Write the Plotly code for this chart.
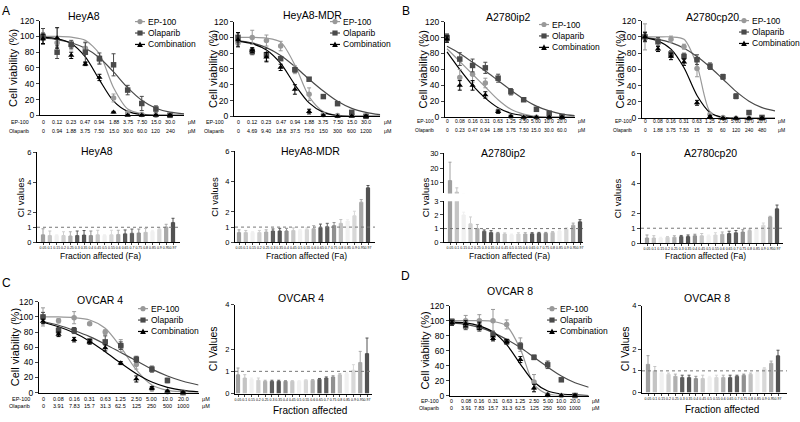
import plotly.graph_objects as go

W, H = 800, 422
FONT = "Arial, 'Liberation Sans', sans-serif"

# ---------------- data ----------------
DOSE_IDX = list(range(10))
FIT_IDX = list(range(11))

EP_DOSES_A = ["0", "0.12", "0.23", "0.47", "0.94", "1.88", "3.75", "7.50", "15.0", "30.0"]
EP_DOSES_B = ["0", "0.08", "0.16", "0.31", "0.63", "1.25", "2.50", "5.00", "10.0", "20.0"]
OLA_DOSES_HEYA8 = ["0", "0.94", "1.88", "3.75", "7.50", "15.0", "30.0", "60.0", "120", "240"]
OLA_DOSES_MDR = ["0", "4.69", "9.40", "18.8", "37.5", "75.0", "150", "300", "600", "1200"]
OLA_DOSES_IP2 = ["0", "0.23", "0.47", "0.94", "1.88", "3.75", "7.50", "15.0", "30.0", "60.0"]
OLA_DOSES_CP20 = ["0", "1.88", "3.75", "7.50", "15", "30", "60", "120", "240", "480"]
OLA_DOSES_OVCAR = ["0", "3.91", "7.83", "15.7", "31.3", "62.5", "125", "250", "500", "1000"]

# HeyA8
HEYA8_EP = [100, 92, 88, 85, 70, 22, 3, 1, 0, 0]
HEYA8_OLA = [100, 80, 90, 80, 72, 64, 32, 15, 8, 0]
HEYA8_COMB = [97, 98, 76, 65, 48, 4, 0, 0, 0, 0]
HEYA8_EP_ERR = [5, 6, 5, 8, 5, 5, 2, 1, 1, 1]
HEYA8_OLA_ERR = [10, 8, 5, 12, 7, 14, 6, 9, 4, 1]
HEYA8_COMB_ERR = [6, 13, 4, 2, 4, 1, 1, 1, 1, 1]
HEYA8_EP_FIT = [100, 100, 99, 95, 78, 35, 8, 2, 0, 0, 0]
HEYA8_OLA_FIT = [98, 96, 92, 85, 73, 55, 35, 19, 9, 4, 2]
HEYA8_COMB_FIT = [99, 97, 91, 74, 45, 18, 5, 1, 0, 0, 0]

# HeyA8-MDR
MDR_EP = [93, 100, 96, 89, 59, 28, 2, 1, 2, 0]
MDR_OLA = [100, 82, 78, 73, 59, 47, 25, 16, 5, 0]
MDR_COMB = [97, 84, 75, 62, 34, 6, 1, 0, 0, 0]
MDR_EP_ERR = [4, 9, 7, 6, 5, 8, 2, 1, 2, 1]
MDR_OLA_ERR = [6, 4, 8, 2, 3, 2, 2, 2, 2, 1]
MDR_COMB_ERR = [9, 3, 6, 4, 6, 3, 1, 1, 1, 1]
MDR_EP_FIT = [100, 100, 99, 94, 65, 25, 6, 1, 0, 0, 0]
MDR_OLA_FIT = [96, 93, 87, 77, 63, 47, 32, 19, 10, 5, 2]
MDR_COMB_FIT = [95, 92, 84, 67, 40, 17, 5, 1, 0, 0, 0]

# A2780ip2
IP2_EP = [100, 50, 54, 43, 8, 1, 0, 0, 0, 0]
IP2_OLA = [100, 73, 65, 62, 49, 32, 22, 10, 5, 1]
IP2_COMB = [98, 40, 40, 28, 7, 1, 0, 0, 0, 0]
IP2_EP_ERR = [5, 10, 10, 6, 2, 1, 1, 1, 1, 1]
IP2_OLA_ERR = [4, 8, 8, 7, 5, 4, 2, 2, 2, 1]
IP2_COMB_ERR = [4, 6, 6, 4, 2, 1, 1, 1, 1, 1]
IP2_EP_FIT = [86, 70, 54, 38, 22, 10, 4, 1, 0, 0, 0]
IP2_OLA_FIT = [89, 80, 69, 58, 46, 34, 23, 14, 8, 4, 2]
IP2_COMB_FIT = [82, 60, 40, 24, 12, 5, 2, 0, 0, 0, 0]

# A2780cp20
CP20_EP = [100, 96, 97, 88, 61, 5, 1, 0, 0, 0]
CP20_OLA = [100, 94, 79, 76, 72, 64, 51, 27, 7, 1]
CP20_COMB = [100, 85, 76, 69, 19, 2, 0, 0, 0, 0]
CP20_EP_ERR = [16, 3, 4, 3, 10, 2, 1, 1, 1, 1]
CP20_OLA_ERR = [6, 5, 4, 4, 6, 4, 3, 3, 1, 1]
CP20_COMB_ERR = [5, 3, 4, 4, 3, 1, 1, 1, 1, 1]
CP20_EP_FIT = [100, 100, 100, 97, 65, 8, 0, 0, 0, 0, 0]
CP20_OLA_FIT = [99, 97, 93, 86, 76, 63, 48, 33, 21, 13, 9]
CP20_COMB_FIT = [99, 95, 85, 62, 28, 7, 1, 0, 0, 0, 0]

# OVCAR 4
OV4_EP = [100, 95, 99, 91, 80, 62, 37, 5, 1, 0]
OV4_OLA = [100, 82, 82, 68, 67, 62, 44, 31, 16, 0]
OV4_COMB = [94, 77, 70, 67, 59, 39, 18, 6, 2, 0]
OV4_EP_ERR = [12, 3, 8, 2, 3, 8, 6, 3, 1, 1]
OV4_OLA_ERR = [6, 4, 4, 3, 8, 5, 4, 4, 3, 1]
OV4_COMB_ERR = [3, 3, 3, 3, 4, 2, 4, 2, 1, 1]
OV4_EP_FIT = [100, 100, 99, 96, 85, 60, 30, 10, 3, 1, 0]
OV4_OLA_FIT = [94, 89, 82, 74, 64, 53, 42, 31, 22, 15, 10]
OV4_COMB_FIT = [93, 87, 79, 68, 54, 39, 25, 14, 7, 3, 1]

# OVCAR 8
OV8_EP = [97, 100, 100, 100, 95, 68, 18, 1, 0, 0]
OV8_OLA = [99, 93, 91, 81, 72, 66, 51, 41, 21, 0]
OV8_COMB = [97, 96, 93, 76, 72, 48, 10, 1, 0, 0]
OV8_EP_ERR = [3, 7, 8, 15, 6, 9, 10, 1, 1, 1]
OV8_OLA_ERR = [3, 5, 5, 5, 3, 4, 3, 5, 2, 1]
OV8_COMB_ERR = [3, 4, 5, 3, 3, 4, 5, 1, 1, 1]
OV8_EP_FIT = [100, 100, 100, 99, 93, 62, 15, 2, 0, 0, 0]
OV8_OLA_FIT = [97, 95, 91, 84, 75, 64, 51, 38, 26, 17, 11]
OV8_COMB_FIT = [98, 97, 93, 85, 68, 42, 18, 6, 2, 1, 0]

# Combination index bars
CI_IDX = list(range(20))
CI_LABELS = ["0.05", "0.1", "0.15", "0.2", "0.25", "0.3", "0.35", "0.4", "0.45", "0.5",
             "0.55", "0.6", "0.65", "0.7", "0.75", "0.8", "0.85", "0.9", "0.95", "0.97"]
HEYA8_CI = [0.50, 0.45, 0.45, 0.45, 0.42, 0.45, 0.48, 0.45, 0.50, 0.45, 0.50, 0.52, 0.56, 0.60, 0.62, 0.66, 0.72, 0.86, 1.02, 1.32]
HEYA8_CI_TOP = [0.9, 0.75, 0.5, 0.7, 0.7, 0.75, 0.78, 0.75, 0.8, 0.5, 0.8, 0.8, 0.82, 0.88, 0.88, 0.92, 0.8, 0.95, 1.2, 1.6]
MDR_CI = [0.65, 0.65, 0.65, 0.65, 0.68, 0.75, 0.75, 0.75, 0.78, 0.8, 0.85, 0.9, 0.98, 1.02, 1.1, 1.25, 1.4, 1.75, 2.65, 3.6]
MDR_CI_TOP = [0.82, 0.78, 0.7, 0.78, 0.82, 0.88, 0.92, 0.92, 0.95, 0.85, 0.95, 1.1, 1.2, 1.25, 1.3, 1.5, 1.5, 2.05, 2.82, 3.75]
IP2_CI = [11.5, 3.6, 2.0, 1.35, 1.0, 0.8, 0.72, 0.65, 0.6, 0.55, 0.6, 0.6, 0.62, 0.65, 0.65, 0.72, 0.82, 0.95, 1.25, 1.5]
IP2_CI_TOP = [24, 6.5, 2.2, 1.85, 1.3, 0.9, 0.85, 0.72, 0.68, 0.6, 0.7, 0.7, 0.7, 0.72, 0.72, 0.78, 0.88, 1.05, 1.4, 1.65]
CP20_CI = [0.35, 0.35, 0.35, 0.4, 0.4, 0.45, 0.45, 0.5, 0.5, 0.5, 0.55, 0.6, 0.65, 0.7, 0.75, 0.85, 0.95, 1.2, 1.75, 2.3]
CP20_CI_TOP = [0.55, 0.5, 0.4, 0.45, 0.5, 0.52, 0.55, 0.6, 0.65, 0.55, 0.7, 0.75, 0.8, 0.85, 0.9, 0.95, 1.0, 1.35, 1.8, 2.55]
OV4_CI = [0.85, 0.7, 0.65, 0.6, 0.55, 0.55, 0.55, 0.55, 0.55, 0.55, 0.6, 0.6, 0.65, 0.7, 0.75, 0.85, 0.9, 1.05, 1.4, 1.8]
OV4_CI_TOP = [1.15, 0.85, 0.7, 0.7, 0.6, 0.6, 0.6, 0.58, 0.58, 0.58, 0.62, 0.63, 0.68, 0.75, 0.8, 0.9, 0.95, 1.3, 1.9, 2.5]
OV8_CI = [1.3, 1.0, 0.9, 0.85, 0.75, 0.7, 0.7, 0.65, 0.65, 0.7, 0.7, 0.7, 0.7, 0.75, 0.8, 0.85, 0.95, 1.1, 1.35, 1.7]
OV8_CI_TOP = [1.7, 1.2, 0.95, 0.9, 0.85, 0.8, 0.8, 0.75, 0.8, 0.75, 0.8, 0.8, 0.8, 0.8, 0.85, 0.9, 1.0, 1.15, 1.45, 1.95]

# ---------------- styles ----------------
SERIES_NAMES = ["EP-100", "Olaparib", "Combination"]
SERIES_COLORS = ["#999999", "#4a4a4a", "#000000"]
SERIES_SYMBOLS = ["circle", "square", "triangle-up"]
CI_COLORS = ["#a0a0a0", "#c4c4c4", "#f0f0f0", "#d0d0d0", "#b0b0b0", "#5e5e5e", "#565656", "#909090", "#c8c8c8", "#f0f0f0",
             "#d8d8d8", "#b0b0b0", "#5a5a5a", "#606060", "#909090", "#c0c0c0", "#f0f0f0", "#d8d8d8", "#a8a8a8", "#525252"]

fig = go.Figure()
layout = {}
shapes = []
annotations = []


def fx(p):
    return p / W


def fy(p):
    return 1 - p / H


def axnames(i):
    s = "" if i == 1 else str(i)
    return "xaxis" + s, "yaxis" + s, "x" + s, "y" + s


def text(x, y, s, size, xanchor="center", angle=0):
    annotations.append(dict(x=fx(x), y=fy(y), xref="paper", yref="paper", text=s, showarrow=False,
                            font=dict(size=size, family=FONT, color="black"), xanchor=xanchor,
                            yanchor="middle", textangle=angle, borderpad=0))


def legend_glyph(lx, ly, k):
    color = SERIES_COLORS[k]
    shapes.append(dict(type="line", xref="paper", yref="paper", x0=fx(lx - 5), x1=fx(lx + 5),
                       y0=fy(ly), y1=fy(ly), line=dict(color=color, width=1.2)))
    r = 2.6
    if k == 0:
        shapes.append(dict(type="circle", xref="paper", yref="paper", x0=fx(lx - r), x1=fx(lx + r),
                           y0=fy(ly + r), y1=fy(ly - r), fillcolor=color, line=dict(width=0)))
    elif k == 1:
        shapes.append(dict(type="rect", xref="paper", yref="paper", x0=fx(lx - r), x1=fx(lx + r),
                           y0=fy(ly + r), y1=fy(ly - r), fillcolor=color, line=dict(width=0)))
    else:
        path = "M %f %f L %f %f L %f %f Z" % (fx(lx - r - 0.3), fy(ly + r), fx(lx + r + 0.3), fy(ly + r), fx(lx), fy(ly - r - 0.5))
        shapes.append(dict(type="path", xref="paper", yref="paper", path=path, fillcolor=color, line=dict(width=0)))
    text(lx + 7, ly, SERIES_NAMES[k], 8.5, xanchor="left")


def dose_panel(i, ax, c0, c9, ytop, ybot, title, tpos, ytx, ep_lbl, ola_lbl, rows, leg, pts, errs, fits, lsize, gap):
    xa, ya, xr, yr = axnames(i)
    step = (c9 - c0) / 9
    right = c0 + 10 * step
    layout[xa] = dict(domain=[fx(ax), fx(right)], range=[(ax - c0) / step, 10], anchor=yr,
                      showline=True, linecolor="black", linewidth=1, ticks="", showticklabels=False,
                      showgrid=False, zeroline=False)
    layout[ya] = dict(domain=[fy(ybot), fy(ytop)], range=[0, 120], anchor=xr,
                      tickvals=[0, 20, 40, 60, 80, 100, 120], showline=True, linecolor="black", linewidth=1,
                      ticks="outside", ticklen=3, tickwidth=1, tickfont=dict(size=8.5, family=FONT, color="black"),
                      showgrid=False, zeroline=False)
    for k in range(3):
        fig.add_trace(go.Scatter(x=FIT_IDX, y=fits[k], mode="lines", xaxis=xr, yaxis=yr, showlegend=False,
                                 line=dict(color=SERIES_COLORS[k], width=1.2, shape="spline", smoothing=0.8),
                                 hoverinfo="skip"))
    for k in range(3):
        fig.add_trace(go.Scatter(x=DOSE_IDX, y=pts[k], mode="markers", xaxis=xr, yaxis=yr, showlegend=False,
                                 name=SERIES_NAMES[k], cliponaxis=False,
                                 marker=dict(symbol=SERIES_SYMBOLS[k], size=5.5, color=SERIES_COLORS[k]),
                                 error_y=dict(type="data", array=errs[k], color=SERIES_COLORS[k], thickness=1, width=2)))
    text(tpos[0], tpos[1], title, 10.5)
    text(ytx, (ytop + ybot) / 2, "Cell viability (%)", 11, angle=-90)
    for j in range(10):
        text(c0 + j * step, rows[0], ep_lbl[j], lsize)
        text(c0 + j * step, rows[1], ola_lbl[j], lsize)
    text(c0 - gap, rows[0], "EP-100", lsize, xanchor="right")
    text(c0 - gap, rows[1], "Olaparib", lsize, xanchor="right")
    text(c9 + 1.5 * step, rows[0], "μM", lsize)
    text(c9 + 1.5 * step, rows[1], "μM", lsize)
    for k in range(3):
        legend_glyph(leg[0], leg[1] + k * 11.7, k)


def ci_axes(i, ax, b0, b19, right, ytop, ybot, yrange, tickvals, show_x=True):
    xa, ya, xr, yr = axnames(i)
    step = (b19 - b0) / 19
    layout[xa] = dict(domain=[fx(ax), fx(right)], range=[(ax - b0) / step, (right - b0) / step], anchor=yr,
                      tickvals=CI_IDX, ticktext=CI_LABELS, tickfont=dict(size=3.5, family=FONT, color="black"),
                      ticks="outside" if show_x else "", ticklen=2, tickwidth=0.8, showline=show_x,
                      linecolor="black", linewidth=1, showticklabels=show_x, showgrid=False, zeroline=False,
                      tickangle=0)
    layout[ya] = dict(domain=[fy(ybot), fy(ytop)], range=yrange, anchor=xr, tickvals=tickvals,
                      showline=True, linecolor="black", linewidth=1, ticks="outside", ticklen=3, tickwidth=1,
                      tickfont=dict(size=7.5, family=FONT, color="black"), showgrid=False, zeroline=False)
    return xr, yr


def ci_bars(xr, yr, vals, tops):
    for j in CI_IDX:
        fig.add_trace(go.Bar(x=[CI_IDX[j]], y=[vals[j]], width=0.62, xaxis=xr, yaxis=yr, showlegend=False,
                             marker=dict(color=CI_COLORS[j], line=dict(width=0)),
                             error_y=dict(type="data", symmetric=False, array=[tops[j] - vals[j]], arrayminus=[0],
                                          color=CI_COLORS[j], thickness=1, width=1.5)))


def ci_refline(xr, yr):
    shapes.append(dict(type="line", xref=xr + " domain", yref=yr, x0=0, x1=1, y0=1, y1=1,
                       line=dict(color="#777777", width=1, dash="dot")))


def ci_panel(i, ax, b0, b19, right, ytop, ybot, yrange, tickvals, vals, tops, title, tpos, ytitle, ytx,
             xtitle, xtpos, xtsize, ytsize):
    xr, yr = ci_axes(i, ax, b0, b19, right, ytop, ybot, yrange, tickvals)
    ci_bars(xr, yr, vals, tops)
    ci_refline(xr, yr)
    text(tpos[0], tpos[1], title, 10.5)
    text(ytx, (ytop + ybot) / 2, ytitle, ytsize, angle=-90)
    text(xtpos[0], xtpos[1], xtitle, xtsize)


# ---------------- dose-response panels ----------------
dose_panel(1, 40, 43, 170, 16, 113, "HeyA8", (84, 11), 13, EP_DOSES_A, OLA_DOSES_HEYA8, (120, 129), (140, 17),
           [HEYA8_EP, HEYA8_OLA, HEYA8_COMB], [HEYA8_EP_ERR, HEYA8_OLA_ERR, HEYA8_COMB_ERR],
           [HEYA8_EP_FIT, HEYA8_OLA_FIT, HEYA8_COMB_FIT], 5.3, 13)
dose_panel(2, 234, 238, 366, 17, 114, "HeyA8-MDR", (312, 10), 213, EP_DOSES_A, OLA_DOSES_MDR, (120, 129), (335, 17),
           [MDR_EP, MDR_OLA, MDR_COMB], [MDR_EP_ERR, MDR_OLA_ERR, MDR_COMB_ERR],
           [MDR_EP_FIT, MDR_OLA_FIT, MDR_COMB_FIT], 5.3, 13)
dose_panel(3, 445, 447, 562, 17, 115, "A2780ip2", (508, 12), 423, EP_DOSES_B, OLA_DOSES_IP2, (119, 128), (544, 20),
           [IP2_EP, IP2_OLA, IP2_COMB], [IP2_EP_ERR, IP2_OLA_ERR, IP2_COMB_ERR],
           [IP2_EP_FIT, IP2_OLA_FIT, IP2_COMB_FIT], 5.0, 12)
dose_panel(4, 642, 645, 762, 16, 116, "A2780cp20", (712, 12), 620, EP_DOSES_B, OLA_DOSES_CP20, (119, 128), (744, 16),
           [CP20_EP, CP20_OLA, CP20_COMB], [CP20_EP_ERR, CP20_OLA_ERR, CP20_COMB_ERR],
           [CP20_EP_FIT, CP20_OLA_FIT, CP20_COMB_FIT], 5.0, 12)
dose_panel(5, 39, 43, 183, 304, 397, "OVCAR 4", (100, 302), 15, EP_DOSES_B, OLA_DOSES_OVCAR, (404, 411), (143, 311),
           [OV4_EP, OV4_OLA, OV4_COMB], [OV4_EP_ERR, OV4_OLA_ERR, OV4_COMB_ERR],
           [OV4_EP_FIT, OV4_OLA_FIT, OV4_COMB_FIT], 5.5, 12)
dose_panel(6, 450, 452, 575, 308, 400, "OVCAR 8", (510, 293), 425, EP_DOSES_B, OLA_DOSES_OVCAR, (406, 413), (552, 311),
           [OV8_EP, OV8_OLA, OV8_COMB], [OV8_EP_ERR, OV8_OLA_ERR, OV8_COMB_ERR],
           [OV8_EP_FIT, OV8_OLA_FIT, OV8_COMB_FIT], 5.3, 12)

# ---------------- CI panels ----------------
ci_panel(7, 37, 43, 173, 180, 151, 243, [0, 6], [0, 1, 2, 4, 6], HEYA8_CI, HEYA8_CI_TOP, "HeyA8", (97, 150),
         "CI values", 20, "Fraction affected (Fa)", (100, 257), 8.5, 9.5)
ci_panel(8, 235, 239, 368, 375, 150, 243, [0, 6], [0, 1, 2, 4, 6], MDR_CI, MDR_CI_TOP, "HeyA8-MDR", (310, 150),
         "CI values", 215, "Fraction affected (Fa)", (306, 257), 8.5, 9.5)
ci_panel(11, 641, 647, 777, 783, 152, 244, [0, 6], [0, 1, 2, 4, 6], CP20_CI, CP20_CI_TOP, "A2780cp20", (710, 152),
         "CI values", 617, "Fraction affected (Fa)", (705, 257), 8.5, 9.5)
ci_panel(12, 235, 238, 367, 372, 307, 398, [0, 4], [0, 1, 2, 4], OV4_CI, OV4_CI_TOP, "OVCAR 4", (301, 300),
         "CI Values", 213, "Fraction affected", (310, 415), 10, 10.5)
ci_panel(13, 642, 648, 778, 787, 308, 397, [0, 4], [0, 1, 2, 4], OV8_CI, OV8_CI_TOP, "OVCAR 8", (707, 300),
         "CI Values", 625, "Fraction affected", (722, 414), 10, 10.5)

# A2780ip2 CI with broken axis
xr9, yr9 = ci_axes(9, 444, 450, 580, 583, 201, 243, [0, 3], [0, 1, 2, 3])
ci_bars(xr9, yr9, IP2_CI, IP2_CI_TOP)
ci_refline(xr9, yr9)
xr10, yr10 = ci_axes(10, 444, 450, 580, 583, 152, 193, [2.7, 30], [10, 20, 30], show_x=False)
ci_bars(xr10, yr10, IP2_CI, IP2_CI_TOP)
text(503, 152, "A2780ip2", 10.5)
text(425, 197, "CI values", 9.5, angle=-90)
text(510, 257, "Fraction affected (Fa)", 8.5)

# panel letters
text(6, 6, "A", 12)
text(406, 6, "B", 12)
text(6, 285, "C", 12)
text(406, 278, "D", 12)

fig.update_layout(**layout)
fig.update_layout(width=W, height=H, margin=dict(l=0, r=0, t=0, b=0), paper_bgcolor="white",
                  plot_bgcolor="white", barmode="overlay", showlegend=False, shapes=shapes,
                  annotations=annotations, font=dict(family=FONT, color="black"))
fig.write_html("out.html", config={"displayModeBar": False},
               post_script="document.body.style.margin='0';document.body.style.overflow='hidden';")
